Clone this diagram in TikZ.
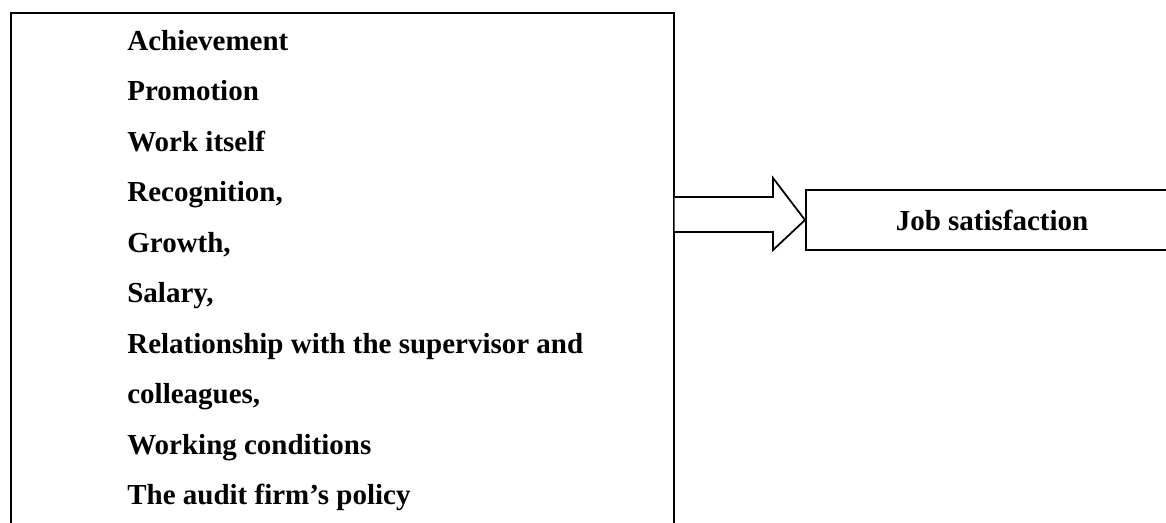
\documentclass[tikz,border=0pt]{standalone}
\usepackage{fontspec}
\setmainfont{Liberation Serif}
\usetikzlibrary{calc}
\tikzstyle{box} = [rectangle, draw = black, line width=1pt, inner sep=0pt]
\tikzstyle{item} = [anchor=base west, inner sep=0pt, font=\bfseries\fontsize{16.5}{18}\selectfont]
\tikzstyle{blockarrow} = [draw = black, line width=1pt, fill = white]

\begin{document}
\begin{tikzpicture}[x=0.02cm, y=-0.02cm]
	\useasboundingbox (0,0) rectangle (1166,522);
	\clip (0,0) rectangle (1166,522);
	\node (F) [box, anchor=north west, minimum width=13.26cm, minimum height=10.8cm] at (10,12) {};
	\foreach \t [count=\i from 0] in {Achievement, Promotion, Work itself, {Recognition,}, {Growth,}, {Salary,}, Relationship with the supervisor and, {colleagues,}, Working conditions, The audit firm’s policy}
		\node (f\i) [item] at (127, {50+50.5*\i}) {\t};
	\node (J) [box, anchor=west, minimum width=8cm, minimum height=1.2cm] at (805,220) {};
	\node (Jt) [item, anchor=base] at (992,230) {Job satisfaction};
	%\draw [->] (F) -- (J);
	\draw [blockarrow] ($(F.east |- 0,197)$) -- (773,197) -- (773,178) -- (J.west) -- (773,250) -- (773,232) -- ($(F.east |- 0,232)$);
\end{tikzpicture}
\end{document}
